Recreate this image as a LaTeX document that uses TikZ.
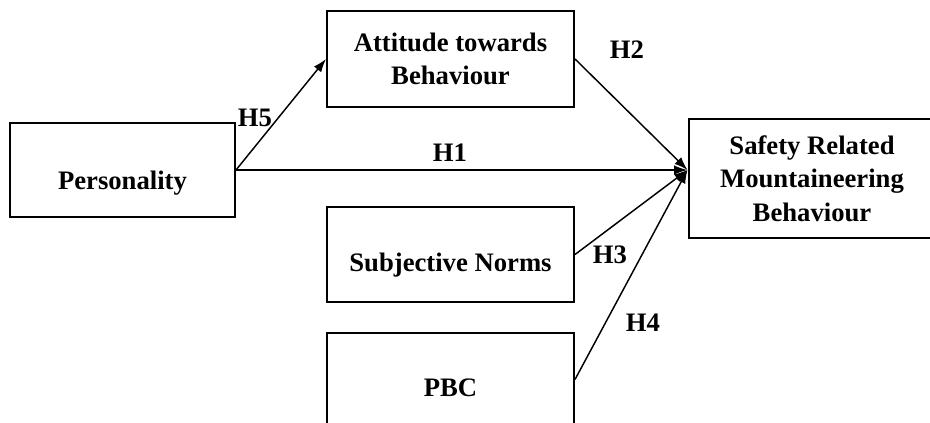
\documentclass[tikz,border=0pt]{standalone}
\usepackage{fontspec}
\setmainfont{Liberation Serif}
\usetikzlibrary{arrows.meta}
\usetikzlibrary{positioning}

\begin{document}
\begin{tikzpicture}[x=0.75pt,y=-0.75pt,-,auto,line width=1.1pt]
	\tikzstyle{every node}=[font=\bfseries\fontsize{20}{25}\selectfont]
	\tikzstyle{box}=[draw=black, fill=white, line width=1.5pt, align=center, minimum width=185.25pt, inner sep=0pt]
	\tikzstyle{link}=[-{Latex[length=10pt,width=7pt]}]
		\clip (0,0) rectangle (930,423);
		\node[box, minimum width=168.75pt, minimum height=70.5pt, text height=30pt, text depth=0pt] (pers) at (122.5,170) {Personality};
		\node[box, minimum height=72pt] (att) at (450.5,59) {Attitude towards\\Behaviour};
		\node[box, minimum height=71.25pt, text height=26pt, text depth=0pt] (subj) [below=73.5pt of att] {Subjective Norms};
		\node[box, minimum height=69.75pt, text height=26pt, text depth=0pt] (pbc) [below=21.75pt of subj] {PBC};
		\node[box, minimum height=89.25pt] (safe) at (812,178.5) {Safety Related\\Mountaineering\\Behaviour};
		\coordinate (hub) at (safe.west |- pers.east);

			\draw[link] (pers.east) -- (att.west);
			\foreach \n in {pers,att,subj,pbc}{
				\draw[link] (\n.east) -- (hub);
				}

		\node (h5) at (255,118) {H5};
		\node (h1) at (450,153) {H1};
		\node (h2) at (627,50) {H2};
		\node (h3) at (610,255) {H3};
		\node (h4) at (643,323) {H4};
\end{tikzpicture}
\end{document}
